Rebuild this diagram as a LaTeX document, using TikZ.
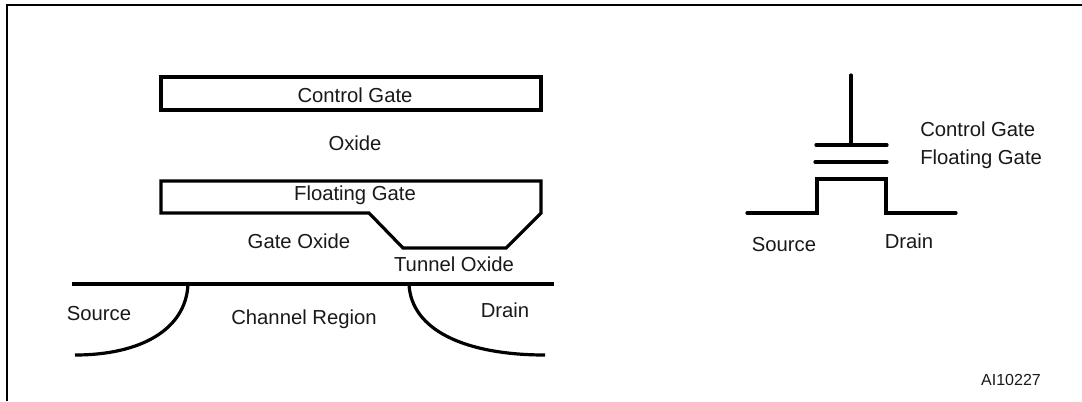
\documentclass[tikz,border=0pt]{standalone}
\usepackage{fontspec}
\setmainfont{Liberation Sans}
\tikzset{
  lbl/.style={inner sep=0pt,font=\fontsize{15.2pt}{17pt}\selectfont,text=black!90},
  small/.style={inner sep=0pt,font=\fontsize{12pt}{14pt}\selectfont,text=black!90},
  thick line/.style={line width=2.4pt,line join=miter},
  sym line/.style={line width=2.4pt,line cap=round},
  frame/.style={line width=1.6pt}
}
\begin{document}
\begin{tikzpicture}[x=0.75pt,y=-0.75pt]
\useasboundingbox (0,0) rectangle (1082,401);
\fill[white] (0,0) rectangle (1082,401);
\draw[frame] (7,401) -- (7,5) -- (1082,5);
% cross-section
\draw[thick line] (161,77) rectangle (541,110);
\node[lbl] (cg) at (355,95) {Control Gate};
\node[lbl] (ox) at (355,143) {Oxide};
\draw[thick line] (161,181) -- (541,181) -- (541,213) -- (506,248) -- (403,248) -- (369,213) -- (161,213) -- cycle;
\node[lbl] (fg) at (355,195) {Floating Gate};
\node[lbl] (go) at (299,241) {Gate Oxide};
\node[lbl] (to) at (454,264) {Tunnel Oxide};
\draw[thick line] (72,284) -- (554,284);
\draw[thick line] (188,284) .. controls (186,330) and (140,355) .. (75,355);
\draw[thick line] (409,284) .. controls (411,330) and (465,355) .. (545,355);
\node[lbl] (s1) at (99,314) {Source};
\node[lbl] (ch) at (304,319) {Channel Region};
\node[lbl] (d1) at (505,310) {Drain};
% symbol
\draw[sym line] (851,75) -- (851,145);
\draw[sym line] (816,145) -- (887,145);
\draw[sym line] (815,162) -- (887,162);
\draw[sym line,line join=miter] (747,213) -- (817,213) -- (817,179) -- (886,179) -- (886,213) -- (956,213);
\node[lbl,anchor=west] (cg2) at (920,129) {Control Gate};
\node[lbl,anchor=west] (fg2) at (920,159) {Floating Gate};
\node[lbl] (s2) at (784,245) {Source};
\node[lbl] (d2) at (909,241) {Drain};
\node[small] (ai) at (1011,380) {AI10227};
\end{tikzpicture}
\end{document}
